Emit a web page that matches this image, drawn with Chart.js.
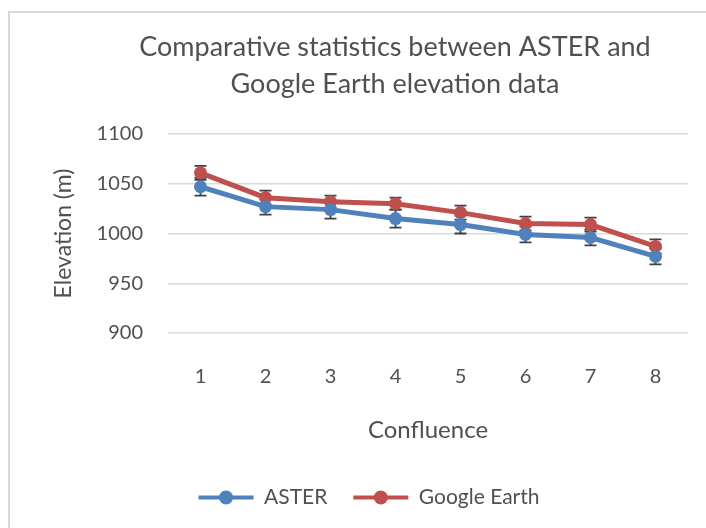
<!DOCTYPE html>
<html>
<head>
<meta charset="utf-8">
<script src="https://cdn.jsdelivr.net/npm/chart.js@4"></script>
<style>
  html, body { margin: 0; padding: 0; background: #fff; overflow: hidden; }
  #box {
    position: absolute; left: 8px; top: 11px;
    width: 716px; height: 517px;
    border-left: 2px solid #d9d9d9; border-top: 2px solid #d9d9d9;
  }
</style>
</head>
<body>
<div id="box"><canvas id="chart" width="716" height="517"></canvas></div>
<script>
// data
const confluences = ['1', '2', '3', '4', '5', '6', '7', '8'];
const asterElev = [1047, 1027, 1024, 1015, 1009, 999, 996, 977];
const asterErr = [9, 8, 9, 9, 9, 8, 8, 8];
const googleElev = [1061, 1036, 1032, 1030, 1021, 1010, 1009, 987];
const googleErr = [7, 7, 6, 6, 7, 7, 7, 7];
const yTicks = [900, 950, 1000, 1050, 1100];
const titleLines = ['Comparative statistics between ASTER and', 'Google Earth elevation data'];

const textColor = '#505050';
const blue = '#4f81bd';
const red = '#c0504d';
const font = 'Lato';

// two line title, placed like the excel one
const titlePlugin = {
  id: 'excelTitle',
  afterDraw(chart) {
    const ctx = chart.ctx;
    ctx.save();
    ctx.fillStyle = textColor;
    ctx.font = '27px ' + font;
    ctx.textAlign = 'center';
    ctx.textBaseline = 'middle';
    ctx.fillText(titleLines[0], 385, 34);
    ctx.fillText(titleLines[1], 385, 71);
    ctx.restore();
  }
};

// error bars from the err arrays, under the lines
const errorBars = {
  id: 'errorBars',
  beforeDatasetsDraw(chart) {
    const ctx = chart.ctx;
    const y = chart.scales.y;
    ctx.save();
    ctx.strokeStyle = '#404040';
    ctx.lineWidth = 1.8;
    chart.data.datasets.forEach((ds, i) => {
      const meta = chart.getDatasetMeta(i);
      meta.data.forEach((pt, j) => {
        const v = ds.data[j], e = ds.errors[j];
        const top = y.getPixelForValue(v + e);
        const bot = y.getPixelForValue(v - e);
        ctx.beginPath();
        ctx.moveTo(pt.x, top); ctx.lineTo(pt.x, bot);
        ctx.moveTo(pt.x - 6, top); ctx.lineTo(pt.x + 6, top);
        ctx.moveTo(pt.x - 6, bot); ctx.lineTo(pt.x + 6, bot);
        ctx.stroke();
      });
    });
    ctx.restore();
  }
};

// marker dot on the legend lines
const legendDots = {
  id: 'legendDots',
  afterDraw(chart) {
    const lg = chart.legend;
    if (!lg || !lg.legendHitBoxes) return;
    const ctx = chart.ctx;
    const bw = lg.options.labels.boxWidth;
    lg.legendHitBoxes.forEach((hb, i) => {
      const ds = chart.data.datasets[i];
      ctx.save();
      ctx.fillStyle = ds.borderColor;
      ctx.beginPath();
      ctx.arc(hb.left + bw / 2, hb.top + hb.height / 2, 7, 0, Math.PI * 2);
      ctx.fill();
      ctx.restore();
    });
  }
};

new Chart(document.getElementById('chart'), {
  type: 'line',
  data: {
    labels: confluences,
    datasets: [
      {
        label: 'ASTER', data: asterElev, errors: asterErr,
        borderColor: blue, backgroundColor: blue,
        borderWidth: 5, pointRadius: 6.5, pointBorderWidth: 0,
        pointBackgroundColor: blue, tension: 0
      },
      {
        label: 'Google Earth', data: googleElev, errors: googleErr,
        borderColor: red, backgroundColor: red,
        borderWidth: 5, pointRadius: 6.5, pointBorderWidth: 0,
        pointBackgroundColor: red, tension: 0
      }
    ]
  },
  options: {
    responsive: false,
    animation: false,
    devicePixelRatio: 1,
    layout: { padding: { top: 121, right: 38, bottom: 12, left: 40 } },
    scales: {
      x: {
        offset: true,
        grid: { display: false },
        border: { display: false },
        ticks: { color: textColor, font: { family: font, size: 20 }, padding: 24 },
        title: {
          display: true, text: 'Confluence', color: textColor,
          font: { family: font, size: 24 }, padding: { top: 0, bottom: 16 }
        },
        afterFit(scale) { scale.height = 128; }
      },
      y: {
        min: 900, max: 1100,
        afterBuildTicks(scale) { scale.ticks = yTicks.map(v => ({ value: v })); },
        grid: { color: '#d9d9d9', lineWidth: 1.5, drawTicks: false },
        border: { display: false },
        ticks: {
          color: textColor, font: { family: font, size: 20 }, padding: 25,
          callback: v => String(v)
        },
        title: {
          display: true, text: 'Elevation (m)', color: textColor,
          font: { family: font, size: 23 }, padding: { top: 0, bottom: 0 }
        },
        afterFit(scale) { scale.width = 118; }
      }
    },
    plugins: {
      title: { display: false },
      tooltip: { enabled: false },
      legend: {
        position: 'bottom',
        labels: {
          color: textColor,
          font: { family: font, size: 21 },
          boxWidth: 55, boxHeight: 4,
          padding: 26,
          generateLabels(chart) {
            return Chart.defaults.plugins.legend.labels.generateLabels(chart)
              .map(l => Object.assign(l, { lineWidth: 0 }));
          }
        }
      }
    }
  },
  plugins: [titlePlugin, errorBars, legendDots]
});
</script>
</body>
</html>
